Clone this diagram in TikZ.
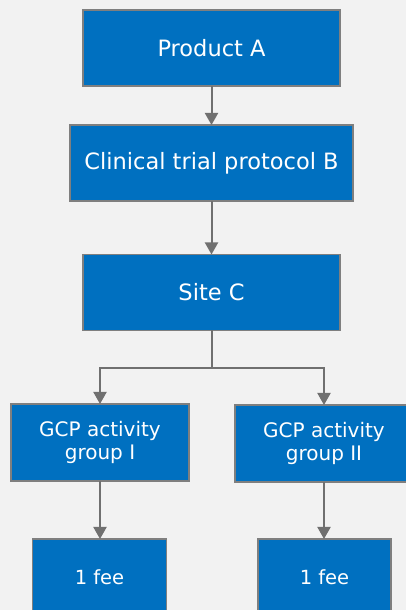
\documentclass[tikz,border=0pt]{standalone}
\usepackage{fontspec}
\setmainfont{DejaVu Sans}
\usetikzlibrary{arrows.meta}
\definecolor{bg}{HTML}{F2F2F2}
\definecolor{boxblue}{HTML}{0070C0}
\definecolor{boxline}{HTML}{7F7F7F}
\definecolor{arrgray}{HTML}{707070}
\begin{document}
\begin{tikzpicture}[x=1pt,y=1pt,
  blk/.style={draw=boxline,line width=1.5pt,fill=boxblue,text=white,inner sep=0pt,outer sep=0pt,align=center},
  bigtxt/.style={font=\fontsize{22.5}{26}\selectfont},
  midtxt/.style={font=\fontsize{20}{23}\selectfont},
  smalltxt/.style={font=\fontsize{19.5}{23}\selectfont},
  arr/.style={draw=arrgray,line width=2pt,-{Triangle[length=12pt,width=13pt]}}]
\useasboundingbox (0,0) rectangle (406,610);
\clip (0,0) rectangle (406,610);
\fill[bg] (0,0) rectangle (406,610);
\node[blk,bigtxt,minimum width=257pt,minimum height=76pt] (A) at (211.5,562) {Product A};
\node[blk,bigtxt,minimum width=283pt,minimum height=76pt] (B) at (211.5,447) {Clinical trial protocol B};
\node[blk,bigtxt,minimum width=257pt,minimum height=76pt] (C) at (211.5,317.5) {Site C};
\node[blk,midtxt,minimum width=178pt,minimum height=77pt] (G1) at (100,167.5) {GCP activity\\group I};
\node[blk,midtxt,minimum width=178pt,minimum height=77pt] (G2) at (324,166.5) {GCP activity\\group II};
\node[blk,smalltxt,minimum width=134pt,minimum height=77pt] (F1) at (99.5,32.5) {1 fee};
\node[blk,smalltxt,minimum width=133pt,minimum height=77pt] (F2) at (324.5,32.5) {1 fee};
\coordinate (br) at (211.5,242);
\draw[arr] (A) -- (B);
\draw[arr] (B) -- (C);
\draw[arr] (C.south) -- (br) -| (G1.north);
\draw[arr] (br) -| (G2.north);
\draw[arr] (G1.south) -- (G1.south |- F1.north);
\draw[arr] (G2.south) -- (G2.south |- F2.north);
\end{tikzpicture}
\end{document}
